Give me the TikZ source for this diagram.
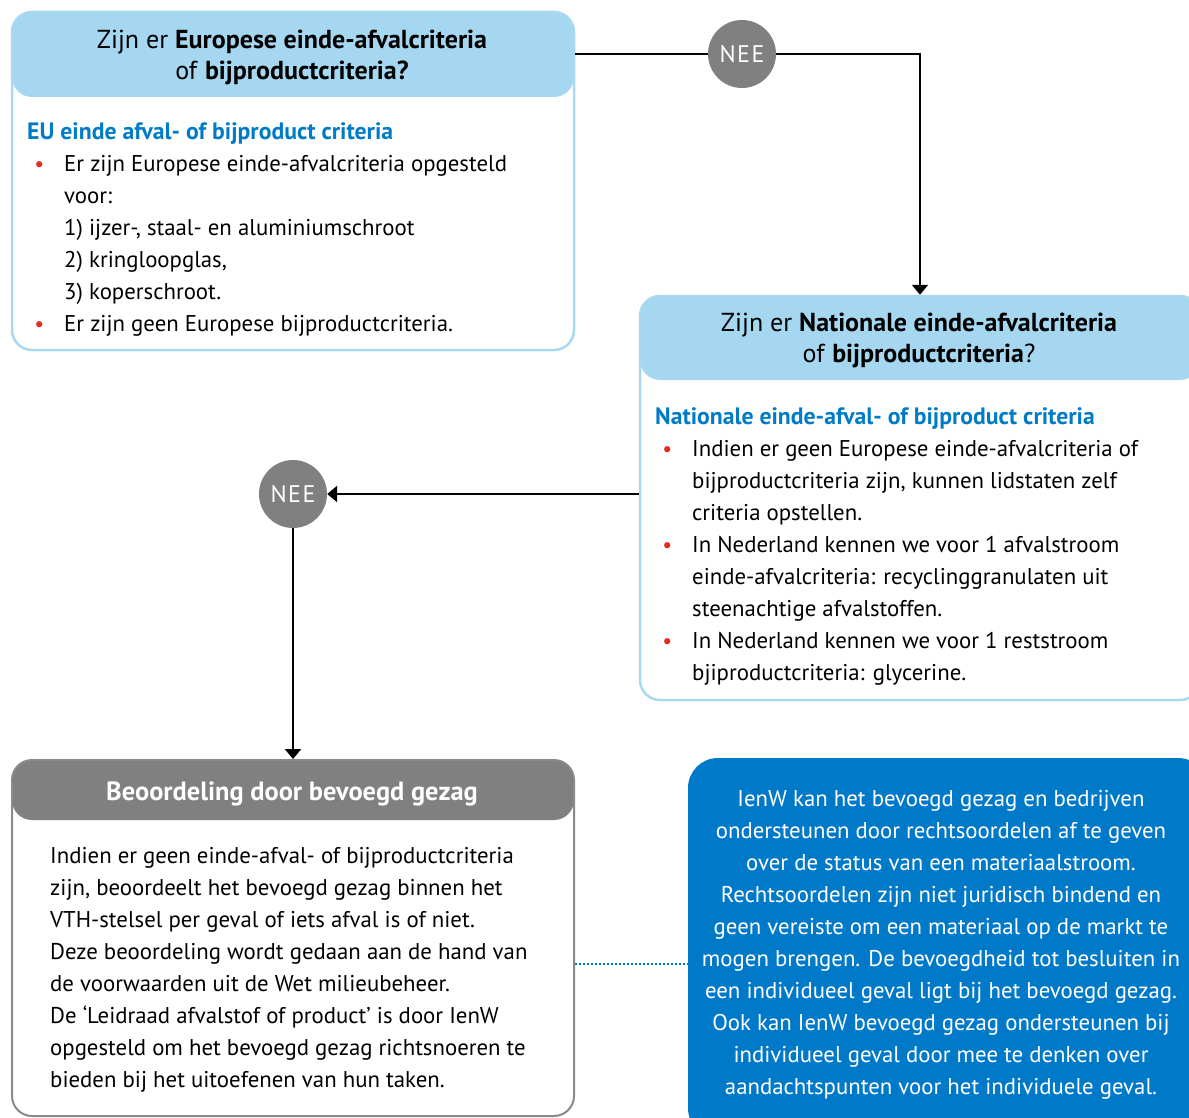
\documentclass[tikz,border=0pt]{standalone}
\usepackage{fontspec}
\setmainfont{PT Sans}
\usetikzlibrary{arrows.meta}
\definecolor{hdrblue}{HTML}{A5D8F0}
\definecolor{lineblue}{HTML}{A8D9F1}
\definecolor{roblue}{HTML}{007BC7}
\definecolor{boxblue}{HTML}{0079C8}
\definecolor{bred}{HTML}{E52A21}
\definecolor{greyc}{HTML}{808080}
\definecolor{greyline}{HTML}{8A8A8A}
\newcommand{\bul}{\llap{\textcolor{bred}{\fontsize{22}{22}\selectfont\textbullet}\hspace{20pt}}}
\begin{document}
\begin{tikzpicture}[x=1pt,y=-1pt,
  qbox/.style={draw=lineblue, line width=2.5pt, rounded corners=20pt, fill=white, inner sep=0pt},
  gbox/.style={draw=greyline, line width=2pt, rounded corners=20pt, fill=white, inner sep=0pt},
  hdrtext/.style={font=\fontsize{26}{31}\selectfont, align=center, inner sep=0pt},
  subtext/.style={font=\fontsize{23.7}{32}\selectfont\bfseries, text=roblue, align=left, inner sep=0pt},
  bodytext/.style={font=\fontsize{22.8}{32}\selectfont, align=left, inner sep=0pt},
  nee/.style={circle, fill=greyc, minimum size=68pt, inner sep=0pt, text=white, font=\fontsize{24}{24}\selectfont\addfontfeature{LetterSpace=6}},
  conn/.style={line width=2.5pt, black},
  tip/.style={-{Triangle[length=10pt,width=16pt]}}
]
\useasboundingbox (0,0) rectangle (1189,1118);
\clip (0,0) rectangle (1189,1118);

% Box 1
\node[qbox, minimum width=562pt, minimum height=338pt,
  path picture={\fill[hdrblue] (path picture bounding box.north west) rectangle ([yshift=-85pt]path picture bounding box.north east);}] (b1) at (293,181) {};
\node[hdrtext, anchor=north] (b1h) at (292,27) {\strut Zijn er \textbf{Europese einde-afvalcriteria}\\of \textbf{bijproductcriteria?}};
\node[subtext, anchor=north west] (b1s) at (27,117) {\strut EU einde afval- of bijproduct criteria};
\node[bodytext, anchor=north west] (b1t) at (64,149) {\strut\bul Er zijn Europese einde-afvalcriteria opgesteld\\voor:\\1) ijzer-, staal- en aluminiumschroot\\2) kringloopglas,\\3) koperschroot.\\\bul Er zijn geen Europese bijproductcriteria.};

% Box 2
\node[qbox, minimum width=560pt, minimum height=404pt,
  path picture={\fill[hdrblue] (path picture bounding box.north west) rectangle ([yshift=-84pt]path picture bounding box.north east);}] (b2) at (920,498) {};
\node[hdrtext, anchor=north] (b2h) at (919,310) {\strut Zijn er \textbf{Nationale einde-afvalcriteria}\\of \textbf{bijproductcriteria}?};
\node[subtext, anchor=north west] (b2s) at (655,402) {\strut Nationale einde-afval- of bijproduct criteria};
\node[bodytext, anchor=north west] (b2t) at (692,434) {\strut\bul Indien er geen Europese einde-afvalcriteria of\\bijproductcriteria zijn, kunnen lidstaten zelf\\criteria opstellen.\\\bul In Nederland kennen we voor 1 afvalstroom\\einde-afvalcriteria: recyclinggranulaten uit\\steenachtige afvalstoffen.\\\bul In Nederland kennen we voor 1 reststroom\\bjiproductcriteria: glycerine.};

% Box 3
\node[gbox, minimum width=562pt, minimum height=356pt,
  path picture={\fill[greyc] (path picture bounding box.north west) rectangle ([yshift=-60pt]path picture bounding box.north east);}] (b3) at (293,938) {};
\node[hdrtext, anchor=north, text=white, font=\fontsize{26.4}{31}\selectfont\bfseries] (b3h) at (292,779) {\strut Beoordeling door bevoegd gezag};
\node[bodytext, anchor=north west] (b3t) at (50,841) {\strut Indien er geen einde-afval- of bijproductcriteria\\zijn, beoordeelt het bevoegd gezag binnen het\\VTH-stelsel per geval of iets afval is of niet.\\Deze beoordeling wordt gedaan aan de hand van\\de voorwaarden uit de Wet milieubeheer.\\De ‘Leidraad afvalstof of product’ is door IenW\\opgesteld om het bevoegd gezag richtsnoeren te\\bieden bij het uitoefenen van hun taken.};

% Box 4
\node[fill=boxblue, rounded corners=30pt, minimum width=520pt, minimum height=380pt, inner sep=0pt] (b4) at (948,948) {};
\node[bodytext, align=center, anchor=north, text=white] (b4t) at (941,784) {\strut IenW kan het bevoegd gezag en bedrijven\\ondersteunen door rechtsoordelen af te geven\\over de status van een materiaalstroom.\\Rechtsoordelen zijn niet juridisch bindend en\\geen vereiste om een materiaal op de markt te\\mogen brengen. De bevoegdheid tot besluiten in\\een individueel geval ligt bij het bevoegd gezag.\\Ook kan IenW bevoegd gezag ondersteunen bij\\individueel geval door mee te denken over\\aandachtspunten voor het individuele geval.};

% NEE circles
\node[nee] (n1) at (742,54) {NEE};
\node[nee] (n2) at (293,494) {NEE};

% connectors
\draw[conn] (b1.east |- n1) -- (n1);
\draw[conn, tip] (n1) -| (b2.north);
\draw[conn, tip] (b2.west |- n2) -- (n2);
\draw[conn, tip] (n2) -- (b3.north);
\coordinate (dl) at (0,964);
\draw[roblue, line width=2pt, dash pattern=on 2pt off 2pt] (b3.east |- dl) -- (b4.west |- dl);
\end{tikzpicture}
\end{document}
